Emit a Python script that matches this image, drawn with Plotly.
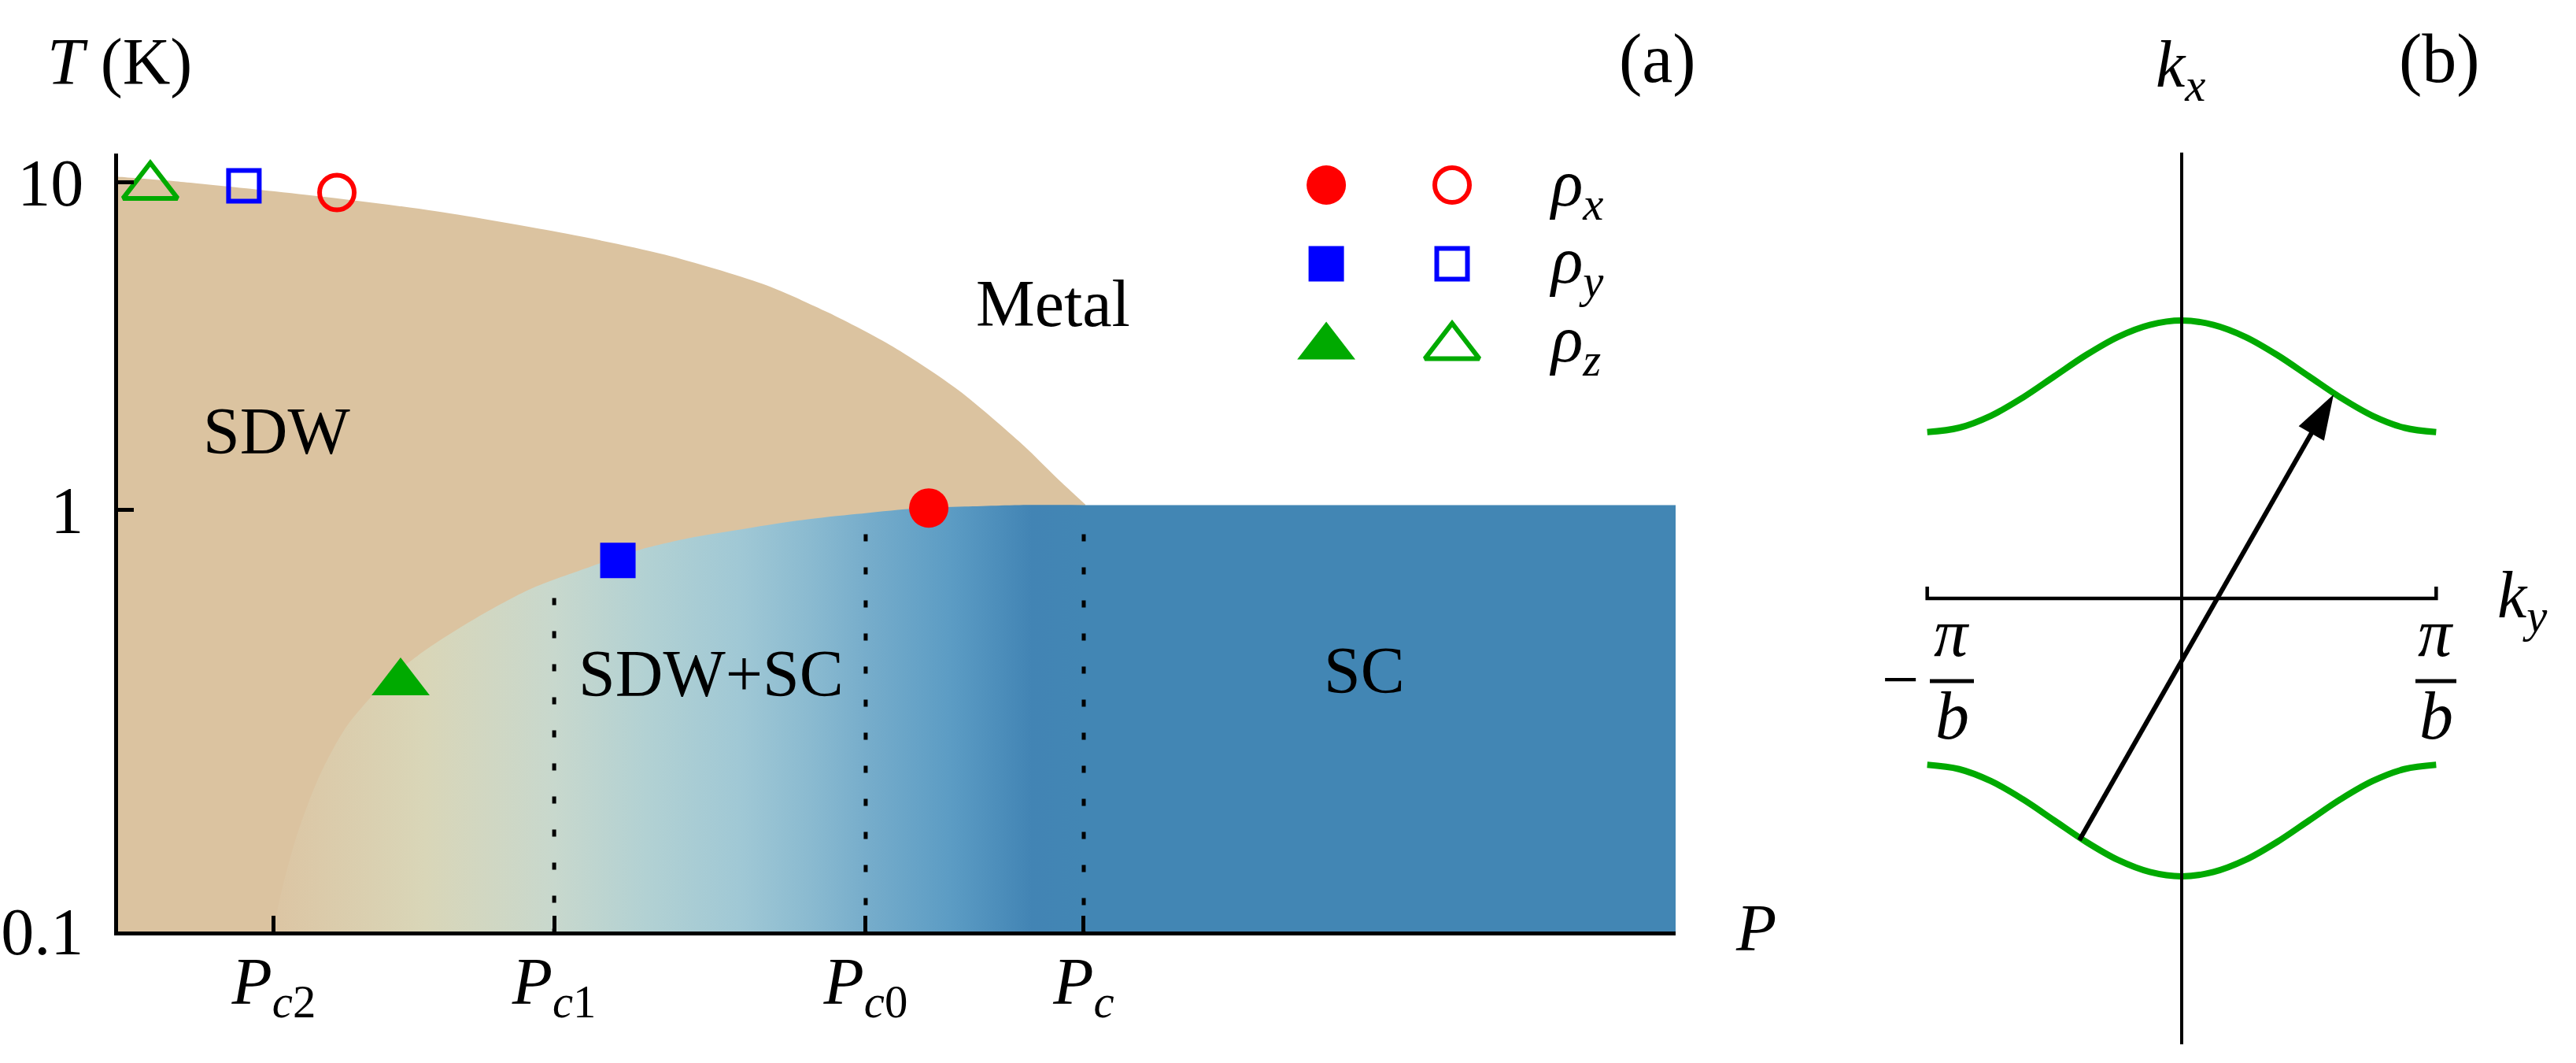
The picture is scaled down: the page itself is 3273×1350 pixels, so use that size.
import plotly.graph_objects as go

W, H = 3273, 1350
FONT = "Liberation Serif, Times New Roman, Times, DejaVu Serif, serif"

# ---------------- Panel (a) data (schematic units) ----------------
# P axis: arbitrary pressure units 0..10 ; T axis: schematic position (0 -> 0.1 K, 5.63 -> 1 K, 10 -> 10 K)
T_TICK_POS = [0.0, 5.63, 10.0]
T_TICK_TEXT = ["0.1", "1", "10"]
P_TICK_POS = [1.0, 2.8, 4.8, 6.2]
P_TICK_TEXT = ["<i>P</i><sub><i>c</i>2</sub>", "<i>P</i><sub><i>c</i>1</sub>",
               "<i>P</i><sub><i>c</i>0</sub>", "<i>P</i><sub><i>c</i></sub>"]

# SDW / Metal boundary
SDW_P = [0.0, 0.369, 1.334, 2.041, 2.880, 3.512, 4.138, 4.558, 4.977, 5.397, 5.816, 6.023, 6.21]
SDW_T = [10.07, 10.01, 9.80, 9.61, 9.31, 9.03, 8.64, 8.26, 7.80, 7.22, 6.48, 6.06, 5.70]

# SC dome boundary (then flat SC top to right edge)
SC_P = [0.995, 1.051, 1.152, 1.294, 1.465, 1.708, 1.956, 2.304, 2.648, 2.996, 3.345,
        3.694, 4.042, 4.391, 4.740, 5.088, 5.437, 5.786, 6.20, 10.0]
SC_T = [0.0, 0.55, 1.31, 2.08, 2.73, 3.31, 3.73, 4.19, 4.57, 4.84, 5.09,
        5.26, 5.38, 5.49, 5.57, 5.64, 5.67, 5.69, 5.69, 5.69]

# horizontal colour gradient inside SC region
GRAD_P = [0.995, 1.97, 2.80, 3.39, 3.99, 4.45, 4.80, 5.34, 5.87, 6.20]
GRAD_C = ["rgb(220,197,163)", "rgb(217,214,184)", "rgb(200,216,205)", "rgb(178,209,211)",
          "rgb(160,200,213)", "rgb(138,186,208)", "rgb(119,173,203)", "rgb(92,156,196)",
          "rgb(66,132,180)", "rgb(66,134,180)"]
SDW_COLOR = "rgb(219,195,160)"

# dotted critical-pressure lines: (P, top T)
DOT_P = [2.8, 4.8, 6.2]
DOT_TOP = [4.45, 5.30, 5.30]

# data points
FILLED_P = [5.205, 3.209, 1.814]
FILLED_T = [5.65, 4.95, 3.32]
OPEN_P = [1.405, 0.808, 0.207]
OPEN_T = [9.86, 9.95, 9.94]
SYMBOLS = ["circle", "square", "triangle-up"]
COLORS = ["#ff0000", "#0000ff", "#00aa00"]
SIZES_FILLED = [50, 45, 64]
SIZES_OPEN = [44, 39, 60]

# legend rows
LEG_P_FILLED = 7.757
LEG_P_OPEN = 8.565
LEG_T = [9.96, 8.91, 7.80]
LEG_LABELS = ["<i>ρ</i><sub><i>x</i></sub>", "<i>ρ</i><sub><i>y</i></sub>", "<i>ρ</i><sub><i>z</i></sub>"]

# ---------------- Panel (b) data ----------------
KY = [-1.0, -0.875, -0.75, -0.625, -0.5, -0.375, -0.25, -0.125, 0.0,
      0.125, 0.25, 0.375, 0.5, 0.625, 0.75, 0.875, 1.0]
KX_UPPER = [0.653, 0.670, 0.717, 0.788, 0.872, 0.956, 1.027, 1.074, 1.091,
            1.074, 1.027, 0.956, 0.872, 0.788, 0.717, 0.670, 0.653]
KX_LOWER = [-0.653, -0.670, -0.717, -0.788, -0.872, -0.956, -1.027, -1.074, -1.091,
            -1.074, -1.027, -0.956, -0.872, -0.788, -0.717, -0.670, -0.653]
KY_AXIS_X = [-1.0, -1.0, 1.0, 1.0]
KY_AXIS_Y = [0.046, 0.0, 0.0, 0.046]
KX_AXIS_X = [0.0, 0.0]
KX_AXIS_Y = [-1.75, 1.75]
NEST_X = [-0.402, 0.597]
NEST_Y = [-0.949, 0.801]


def px(x):
    return x / W


def py(y):
    return 1 - y / H


fig = go.Figure()

# ---- panel (a) traces ----
# corners repeated so that the spline stays sharp there
sdw_x = [SDW_P[0], SDW_P[0]] + SDW_P + [SDW_P[-1], SDW_P[-1], SDW_P[-1], SDW_P[0], SDW_P[0], SDW_P[0]]
sdw_y = [0.0, SDW_T[0]] + SDW_T + [SDW_T[-1], 0.0, 0.0, 0.0, 0.0, SDW_T[0]]
fig.add_trace(go.Scatter(
    x=sdw_x, y=sdw_y,
    mode="lines", line=dict(width=0, shape="spline", smoothing=0.8), fill="toself", fillcolor=SDW_COLOR,
    hoverinfo="skip", xaxis="x", yaxis="y"))

gp0, gp1 = GRAD_P[0], GRAD_P[-1]
cscale = [[(p - gp0) / (gp1 - gp0), c] for p, c in zip(GRAD_P, GRAD_C)]
sc_x = [SC_P[0]] + SC_P + [SC_P[-1], SC_P[-1], SC_P[-1], SC_P[0], SC_P[0]]
sc_y = [SC_T[0]] + SC_T + [SC_T[-1], 0.0, 0.0, 0.0, 0.0]
fig.add_trace(go.Scatter(
    x=sc_x, y=sc_y,
    mode="lines", line=dict(width=0, shape="spline", smoothing=0.8), fill="toself",
    fillgradient=dict(type="horizontal", colorscale=cscale, start=gp0, stop=gp1),
    hoverinfo="skip", xaxis="x", yaxis="y"))

for p, top in zip(DOT_P, DOT_TOP):
    fig.add_trace(go.Scatter(
        x=[p, p], y=[top, 0.0], mode="lines",
        line=dict(color="black", width=5, dash="9px,33px"),
        hoverinfo="skip", xaxis="x", yaxis="y"))

for i in range(3):
    fig.add_trace(go.Scatter(
        x=[FILLED_P[i], LEG_P_FILLED], y=[FILLED_T[i], LEG_T[i]], mode="markers",
        marker=dict(symbol=SYMBOLS[i], color=COLORS[i], size=SIZES_FILLED[i], line=dict(width=0)),
        cliponaxis=False, xaxis="x", yaxis="y"))
    fig.add_trace(go.Scatter(
        x=[OPEN_P[i], LEG_P_OPEN], y=[OPEN_T[i], LEG_T[i]], mode="markers",
        marker=dict(symbol=SYMBOLS[i] + "-open", color=COLORS[i], size=SIZES_OPEN[i],
                    line=dict(width=6, color=COLORS[i])),
        cliponaxis=False, xaxis="x", yaxis="y"))

# ---- panel (b) traces ----
GREEN = "#00aa00"
fig.add_trace(go.Scatter(x=KY, y=KX_UPPER, mode="lines", line=dict(color=GREEN, width=8, shape="spline"),
                         xaxis="x2", yaxis="y2", hoverinfo="skip"))
fig.add_trace(go.Scatter(x=KY, y=KX_LOWER, mode="lines", line=dict(color=GREEN, width=8, shape="spline"),
                         xaxis="x2", yaxis="y2", hoverinfo="skip"))
fig.add_trace(go.Scatter(x=KY_AXIS_X, y=KY_AXIS_Y, mode="lines", line=dict(color="black", width=4.5),
                         xaxis="x2", yaxis="y2", hoverinfo="skip"))
fig.add_trace(go.Scatter(x=KX_AXIS_X, y=KX_AXIS_Y, mode="lines", line=dict(color="black", width=4),
                         xaxis="x2", yaxis="y2", hoverinfo="skip"))
fig.add_trace(go.Scatter(
    x=NEST_X, y=NEST_Y, mode="lines+markers",
    line=dict(color="black", width=6),
    marker=dict(symbol=["circle", "arrow"], size=[0, 60], color="black", angleref="previous",
                opacity=1, line=dict(width=0)),
    xaxis="x2", yaxis="y2", hoverinfo="skip", cliponaxis=False))

# ---- axes ----
axis_font = dict(family=FONT, size=84, color="black")
fig.update_layout(
    width=W, height=H, margin=dict(l=0, r=0, t=0, b=0),
    paper_bgcolor="white", plot_bgcolor="white", showlegend=False,
    xaxis=dict(domain=[px(150), px(2129)], range=[0, 10], showgrid=False, zeroline=False,
               showline=True, linewidth=5, linecolor="black", ticks="inside", ticklen=20,
               tickwidth=5, tickcolor="black", tickvals=P_TICK_POS, ticktext=P_TICK_TEXT,
               tickfont=axis_font, ticklabelstandoff=-14, anchor="y", automargin=False),
    yaxis=dict(domain=[py(1183), py(195)], range=[0, 10.38], showgrid=False, zeroline=False,
               showline=True, linewidth=5, linecolor="black", ticks="inside", ticklen=20,
               tickwidth=5, tickcolor="black", tickvals=T_TICK_POS, ticktext=T_TICK_TEXT,
               tickfont=axis_font, ticklabelstandoff=22, anchor="x", automargin=False),
    xaxis2=dict(domain=[px(2287), px(3257)], range=[-1.5, 1.5], visible=False, anchor="y2"),
    yaxis2=dict(domain=[py(1342.3), py(15.95)], range=[-1.8, 2.3], visible=False, anchor="x2"),
)

# ---- text annotations ----
def txt(text, x, y, size=84, xanchor="center"):
    fig.add_annotation(text=text, x=px(x), y=py(y), xref="paper", yref="paper",
                       xanchor=xanchor, yanchor="middle", showarrow=False,
                       font=dict(family=FONT, size=size, color="black"))

txt("<i>T</i> (K)", 58, 79, xanchor="left")
txt("(a)", 2106, 74, size=88)
txt("Metal", 1338, 385)
txt("SDW", 351, 547)
txt("SDW+SC", 903, 855)
txt("SC", 1733, 852)
for lab, yy in zip(LEG_LABELS, [239, 337, 437]):
    txt(lab, 1966, yy, xanchor="left")
txt("<i>P</i>", 2231, 1178)
txt("<i>k</i><sub><i>x</i></sub>", 2770, 88)
txt("(b)", 3099, 74, size=88)
txt("<i>k</i><sub><i>y</i></sub>", 3171, 762, xanchor="left")
txt("−", 2414, 862)
txt("<i>π</i>", 2480, 804, size=86)
txt("<i>b</i>", 2480, 909, size=86)
txt("<i>π</i>", 3095, 804, size=86)
txt("<i>b</i>", 3095, 909, size=86)
for x0, x1 in [(2452, 2508), (3069, 3121)]:
    fig.add_shape(type="line", xref="paper", yref="paper", x0=px(x0), x1=px(x1),
                  y0=py(865), y1=py(865), line=dict(color="black", width=5))

POST = """
document.documentElement.style.margin='0';
document.documentElement.style.overflow='hidden';
document.body.style.margin='0';
document.body.style.overflow='hidden';
var gd = document.querySelector('.plotly-graph-div');
gd.style.position='fixed'; gd.style.top='0px'; gd.style.left='0px';
"""
fig.write_html("out.html", config={"displayModeBar": False}, post_script=POST)
